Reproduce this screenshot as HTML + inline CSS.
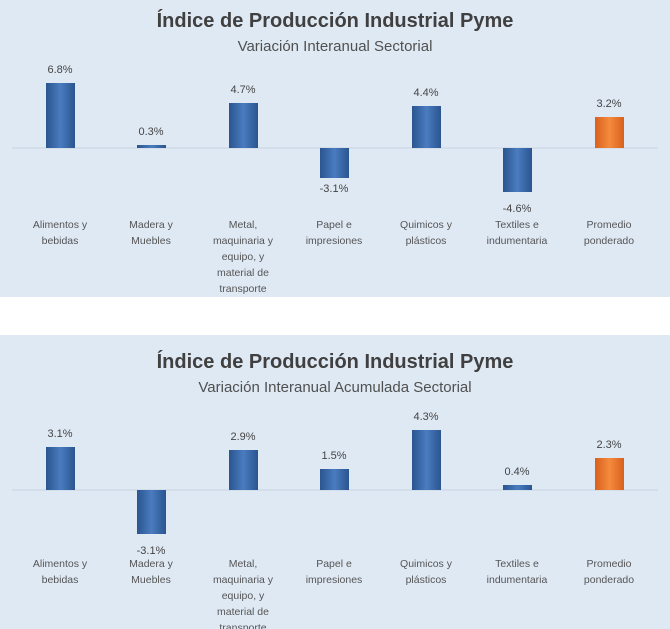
<!DOCTYPE html>
<html><head><meta charset="utf-8"><style>
body{margin:0;width:670px;height:629px;overflow:hidden;background:#fff}
svg{display:block;font-family:"Liberation Sans",sans-serif}
</style></head><body>
<svg width="670" height="629" viewBox="0 0 670 629">
<defs>
<linearGradient id="b" x1="0" y1="0" x2="1" y2="0">
<stop offset="0" stop-color="#2a558f"/><stop offset="0.5" stop-color="#4a7cc0"/><stop offset="1" stop-color="#2a558f"/></linearGradient>
<linearGradient id="o" x1="0" y1="0" x2="1" y2="0">
<stop offset="0" stop-color="#d8611c"/><stop offset="0.5" stop-color="#f58a3e"/><stop offset="1" stop-color="#d8611c"/></linearGradient>
</defs>
<rect x="0" y="0" width="670" height="297" fill="#dfe9f4"/>
<rect x="0" y="335" width="670" height="294" fill="#dfe9f4"/>
<g text-anchor="middle" fill="#444">
<text x="335" y="27" font-size="20" font-weight="bold" fill="#404040">Índice de Producción Industrial Pyme</text>
<text x="335" y="51" font-size="15" fill="#505050">Variación Interanual Sectorial</text>
<text x="335" y="368" font-size="20" font-weight="bold" fill="#404040">Índice de Producción Industrial Pyme</text>
<text x="335" y="392" font-size="15" fill="#505050">Variación Interanual Acumulada Sectorial</text>
</g>
<line x1="12" y1="148" x2="658" y2="148" stroke="#c8d3df"/>
<line x1="12" y1="490" x2="658" y2="490" stroke="#c8d3df"/>
<g>
<rect x="46" y="83" width="29" height="65" fill="url(#b)"/>
<rect x="137" y="145" width="29" height="3" fill="url(#b)"/>
<rect x="229" y="103" width="29" height="45" fill="url(#b)"/>
<rect x="320" y="148" width="29" height="30" fill="url(#b)"/>
<rect x="412" y="106" width="29" height="42" fill="url(#b)"/>
<rect x="503" y="148" width="29" height="44" fill="url(#b)"/>
<rect x="595" y="117" width="29" height="31" fill="url(#o)"/>
<rect x="46" y="447" width="29" height="43" fill="url(#b)"/>
<rect x="137" y="490" width="29" height="44" fill="url(#b)"/>
<rect x="229" y="450" width="29" height="40" fill="url(#b)"/>
<rect x="320" y="469" width="29" height="21" fill="url(#b)"/>
<rect x="412" y="430" width="29" height="60" fill="url(#b)"/>
<rect x="503" y="485" width="29" height="5" fill="url(#b)"/>
<rect x="595" y="458" width="29" height="32" fill="url(#o)"/>
</g>
<g text-anchor="middle" font-size="11" fill="#444">
<text x="60" y="73">6.8%</text><text x="151" y="135">0.3%</text><text x="243" y="93">4.7%</text>
<text x="334" y="192">-3.1%</text><text x="426" y="96">4.4%</text><text x="517" y="212">-4.6%</text><text x="609" y="107">3.2%</text>
<text x="60" y="437">3.1%</text><text x="151" y="554">-3.1%</text><text x="243" y="440">2.9%</text>
<text x="334" y="459">1.5%</text><text x="426" y="420">4.3%</text><text x="517" y="475">0.4%</text><text x="609" y="448">2.3%</text>
</g>
<g text-anchor="middle" font-size="10.5" fill="#555">
<text x="60" y="228">Alimentos y</text><text x="60" y="244">bebidas</text>
<text x="151" y="228">Madera y</text><text x="151" y="244">Muebles</text>
<text x="243" y="228">Metal,</text><text x="243" y="244">maquinaria y</text><text x="243" y="260">equipo, y</text><text x="243" y="276">material de</text><text x="243" y="292">transporte</text>
<text x="334" y="228">Papel e</text><text x="334" y="244">impresiones</text>
<text x="426" y="228">Quimicos y</text><text x="426" y="244">plásticos</text>
<text x="517" y="228">Textiles e</text><text x="517" y="244">indumentaria</text>
<text x="609" y="228">Promedio</text><text x="609" y="244">ponderado</text>
<text x="60" y="567">Alimentos y</text><text x="60" y="583">bebidas</text>
<text x="151" y="567">Madera y</text><text x="151" y="583">Muebles</text>
<text x="243" y="567">Metal,</text><text x="243" y="583">maquinaria y</text><text x="243" y="599">equipo, y</text><text x="243" y="615">material de</text><text x="243" y="631">transporte</text>
<text x="334" y="567">Papel e</text><text x="334" y="583">impresiones</text>
<text x="426" y="567">Quimicos y</text><text x="426" y="583">plásticos</text>
<text x="517" y="567">Textiles e</text><text x="517" y="583">indumentaria</text>
<text x="609" y="567">Promedio</text><text x="609" y="583">ponderado</text>
</g>
</svg>
</body></html>
